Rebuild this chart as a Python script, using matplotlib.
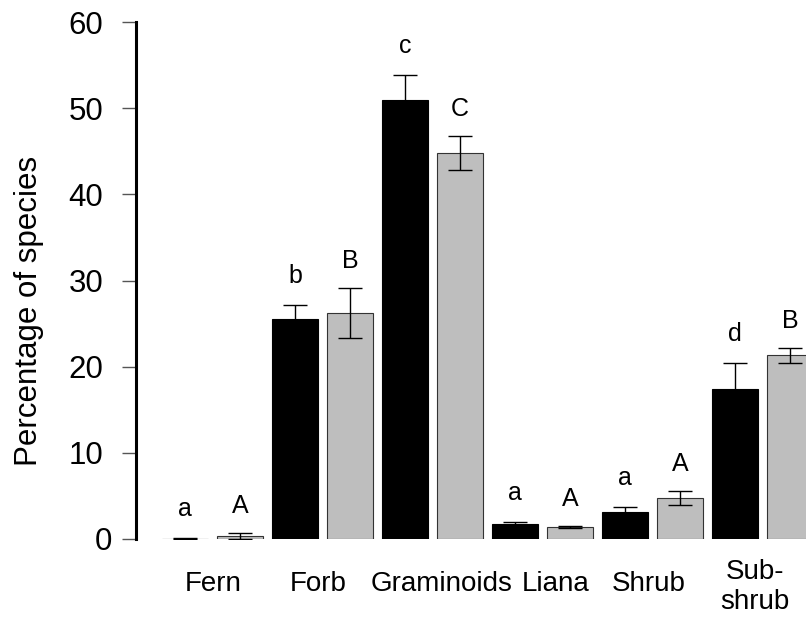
import matplotlib
matplotlib.use("Agg")
import matplotlib.pyplot as plt
from matplotlib.transforms import ScaledTranslation
import numpy as np

plt.rcParams['font.family'] = ['Liberation Sans', 'DejaVu Sans']

# data
groups = ["Fern", "Forb", "Graminoids", "Liana", "Shrub", "Sub-\nshrub"]
black_mean = [0.05, 25.5, 50.9, 1.75, 3.1, 17.4]
black_se = [0.05, 1.7, 2.95, 0.27, 0.58, 3.05]
grey_mean = [0.4, 26.2, 44.8, 1.4, 4.75, 21.3]
grey_se = [0.35, 2.9, 2.0, 0.15, 0.85, 0.85]
black_letters = ["a", "b", "c", "a", "a", "d"]
grey_letters = ["A", "B", "C", "A", "A", "B"]
yticks = [0, 10, 20, 30, 40, 50, 60]

# R barplot style: width 1, space 0.2
n = len(groups)
xb = 0.7 + 2.4 * np.arange(n)
xg = xb + 1.2
label_x = [1.31, 3.60, 6.30, 8.79, 10.82, 13.14]

fig = plt.figure(figsize=(8.06, 6.18), dpi=100)
ax = fig.add_axes([136/806, 79/618, 670/806, 517/618])

ax.bar(xb, black_mean, width=1, color="black", edgecolor="black", linewidth=0.8)
ax.bar(xg, grey_mean, width=1, color="#bebebe", edgecolor="#333333", linewidth=0.8)
ax.errorbar(xb, black_mean, yerr=black_se, fmt="none", ecolor="black",
            elinewidth=1.0, capsize=8.6, capthick=1.0)
ax.errorbar(xg, grey_mean, yerr=grey_se, fmt="none", ecolor="black",
            elinewidth=1.0, capsize=8.6, capthick=1.0)

for x, m, s, t in zip(xb, black_mean, black_se, black_letters):
    ax.annotate(t, (x, m + s), xytext=(0, 15.8), textcoords="offset points",
                ha="center", va="baseline", fontsize=18, annotation_clip=False)
for x, m, s, t in zip(xg, grey_mean, grey_se, grey_letters):
    ax.annotate(t, (x, m + s), xytext=(0, 14.4), textcoords="offset points",
                ha="center", va="baseline", fontsize=18, annotation_clip=False)

ax.set_xlim(-0.367, 14.25)
ax.set_ylim(0, 60)
ax.set_xticks([])
ax.set_yticks(yticks)
ax.tick_params(axis="y", length=10, width=1.0, color="#555555", pad=13.5, labelsize=22.5)
# the "0" label sits closer to its tick in the original
lab0 = ax.get_yticklabels()[0]
lab0.set_transform(lab0.get_transform() + ScaledTranslation(0.09, 0, fig.dpi_scale_trans))

for sp in ["top", "right", "bottom"]:
    ax.spines[sp].set_visible(False)
ax.spines["left"].set_linewidth(2.2)
ax.spines["left"].set_bounds(0, 60)

trans = ax.get_xaxis_transform()
for x, g in zip(label_x, groups):
    top = -20/517 if "\n" in g else -32/517
    ax.text(x, top, g, transform=trans, ha="center", va="top",
            fontsize=20, linespacing=1.22, clip_on=False)

fig.text(29/806, 0.5 - 2/618, "Percentage of species", rotation=90,
         ha="center", va="center", fontsize=22.5)

fig.savefig("out.png", dpi=100)
